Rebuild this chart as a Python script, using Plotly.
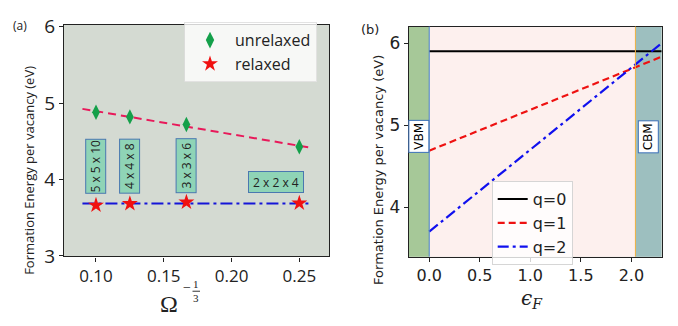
import numpy as np
import plotly.graph_objects as go

# ---------------- data ----------------
omega_inv3 = [0.100, 0.125, 0.1667, 0.250]
e_unrelaxed = [4.88, 4.82, 4.72, 4.43]
e_relaxed = [3.663, 3.684, 3.703, 3.691]
cell_labels = ["5 x 5 x 10", "4 x 4 x 8", "3 x 3 x 6", "2 x 2 x 4"]
fit_x_range = [0.090, 0.259]

ef = [0.0, 2.30]
e_q0 = [5.905, 5.905]
e_q1 = [4.69, 5.84]
e_q2 = [3.70, 6.005]
vbm = 0.0
cbm = 2.04
x2_range = [-0.2, 2.30]
y2_range = [3.394, 6.208]
x1_range = [0.0764, 0.2719]
y1_range = [2.994, 6.024]

W, H = 678, 326
def px(x):
    return x / W
def py(y):
    return 1 - y / H

# ---------------- figure ----------------
fig = go.Figure()

fx = np.array(fit_x_range)
p = np.polyfit(omega_inv3, e_unrelaxed, 1)
fig.add_trace(go.Scatter(x=fx, y=np.polyval(p, fx), mode="lines",
                         line=dict(color="#e8195a", width=2, dash="8px,5px"),
                         showlegend=False, xaxis="x", yaxis="y"))
rm = float(np.mean(e_relaxed))
fig.add_trace(go.Scatter(x=fx, y=[rm, rm], mode="lines",
                         line=dict(color="#1515d8", width=2, dash="12px,4px,3px,4px"),
                         showlegend=False, xaxis="x", yaxis="y"))

fig.add_trace(go.Scatter(x=omega_inv3, y=e_unrelaxed, mode="markers",
                         name="unrelaxed", legend="legend",
                         marker=dict(symbol="diamond-tall", size=11, color="#14a04a",
                                     line=dict(width=0)),
                         xaxis="x", yaxis="y"))
fig.add_trace(go.Scatter(x=omega_inv3, y=e_relaxed, mode="markers",
                         name="relaxed", legend="legend",
                         marker=dict(symbol="star", size=12, color="#f01010",
                                     line=dict(width=0)),
                         xaxis="x", yaxis="y"))

fig.add_trace(go.Scatter(x=ef, y=e_q0, mode="lines", name="q=0", legend="legend2",
                         line=dict(color="black", width=2), xaxis="x2", yaxis="y2"))
fig.add_trace(go.Scatter(x=ef, y=e_q1, mode="lines", name="q=1", legend="legend2",
                         line=dict(color="#ee1111", width=2.2, dash="7px,4px"),
                         xaxis="x2", yaxis="y2"))
fig.add_trace(go.Scatter(x=ef, y=e_q2, mode="lines", name="q=2", legend="legend2",
                         line=dict(color="#1010ee", width=2.2, dash="11px,4px,3px,4px"),
                         xaxis="x2", yaxis="y2"))

shapes = [
    dict(type="rect", xref="x2", yref="y2 domain", x0=x2_range[0], x1=vbm, y0=0, y1=1,
         fillcolor="#a6c898", line=dict(width=0), layer="below"),
    dict(type="rect", xref="x2", yref="y2 domain", x0=vbm, x1=cbm, y0=0, y1=1,
         fillcolor="#fdf0ee", line=dict(width=0), layer="below"),
    dict(type="rect", xref="x2", yref="y2 domain", x0=cbm, x1=x2_range[1], y0=0, y1=1,
         fillcolor="#9dbfbf", line=dict(width=0), layer="below"),
    dict(type="line", xref="x2", yref="y2 domain", x0=vbm, x1=vbm, y0=0, y1=1,
         line=dict(color="#4a80c8", width=1)),
    dict(type="line", xref="x2", yref="y2 domain", x0=cbm, x1=cbm, y0=0, y1=1,
         line=dict(color="#f0b040", width=1)),
    dict(type="line", xref="paper", yref="paper", x0=px(192.5), x1=px(200),
         y0=py(301.5), y1=py(301.5), line=dict(color="#333", width=1)),
]

ann = []
def A(**kw):
    kw.setdefault("showarrow", False)
    kw.setdefault("xanchor", "center")
    kw.setdefault("yanchor", "middle")
    ann.append(kw)

box_font = dict(family="Open Sans", size=12, color="#222")
for i in range(3):
    A(x=omega_inv3[i], y=4.18, xref="x", yref="y", text=cell_labels[i],
      textangle=-90, font=box_font, bgcolor="#8fd4b6", bordercolor="#4a78b0",
      borderwidth=1, borderpad=1, width=51, height=17)
A(x=omega_inv3[3], y=3.97, xref="x", yref="y", text=cell_labels[3], xshift=-23,
  font=box_font, bgcolor="#8fd4b6", bordercolor="#4a78b0", borderwidth=1,
  borderpad=1, width=52, height=18)
for lab, xc in [("VBM", (x2_range[0] + vbm) / 2), ("CBM", (cbm + x2_range[1]) / 2)]:
    A(x=xc, y=4.86, xref="x2", yref="y2", text=lab, textangle=-90,
      font=dict(family="DejaVu Sans", size=12, color="black"),
      bgcolor="white", bordercolor="#3a6fb8", borderwidth=1, borderpad=1,
      width=29, height=17)

ytitle = "Formation Energy per vacancy (eV)"
A(x=px(29), y=py(172), xref="paper", yref="paper", text=ytitle, textangle=-90,
  font=dict(family="Open Sans", size=13, color="#222"))
A(x=px(379), y=py(171), xref="paper", yref="paper", text=ytitle, textangle=-90,
  font=dict(family="DejaVu Sans", size=13, color="#222"))

A(x=px(169), y=py(315), xref="paper", yref="paper", text="Ω",
  font=dict(family="Liberation Serif", size=24, color="#222"))
A(x=px(186.5), y=py(298), xref="paper", yref="paper", text="−",
  font=dict(family="Liberation Serif", size=14, color="#222"))
A(x=px(196.3), y=py(294), xref="paper", yref="paper", text="1",
  font=dict(family="Liberation Serif", size=11, color="#222"))
A(x=px(196.3), y=py(308.5), xref="paper", yref="paper", text="3",
  font=dict(family="Liberation Serif", size=11, color="#222"))
A(x=px(532), y=py(310), xref="paper", yref="paper",
  text="<i>ϵ</i><sub><i>F</i></sub>",
  font=dict(family="DejaVu Serif", size=20, color="#222"))

A(x=px(20), y=py(16), xref="paper", yref="paper", text="(a)",
  font=dict(family="Open Sans", size=12, color="#222"))
A(x=px(370), y=py(20), xref="paper", yref="paper", text="(b)",
  font=dict(family="DejaVu Sans", size=13, color="#222"))

axis_common = dict(showline=True, linecolor="#222", linewidth=1.3, mirror=True,
                   ticks="outside", ticklen=4, tickcolor="#222", showgrid=False,
                   zeroline=False)

fig.update_layout(
    width=W, height=H,
    margin=dict(l=0, r=0, t=0, b=0),
    paper_bgcolor="white",
    plot_bgcolor="#d4dad2",
    shapes=shapes,
    annotations=ann,
    xaxis=dict(domain=[px(64), px(329)], range=x1_range, tickvals=[0.10, 0.15, 0.20, 0.25],
               ticktext=["0.10", "0.15", "0.20", "0.25"],
               tickfont=dict(family="Open Sans", size=17, color="#222"), **axis_common),
    yaxis=dict(domain=[py(264), py(15)], range=y1_range, tickvals=[3, 4, 5, 6],
               tickfont=dict(family="Open Sans", size=19, color="#222"), **axis_common),
    xaxis2=dict(domain=[px(409), px(661.7)], range=x2_range,
                tickvals=[0.0, 0.5, 1.0, 1.5, 2.0], ticktext=["0.0", "0.5", "1.0", "1.5", "2.0"],
                tickfont=dict(family="DejaVu Sans", size=16, color="#222"),
                anchor="y2", **axis_common),
    yaxis2=dict(domain=[py(264.3), py(16.7)], range=y2_range, tickvals=[4, 5, 6],
                tickfont=dict(family="DejaVu Sans", size=17, color="#222"),
                anchor="x2", **axis_common),
    legend=dict(x=px(184), y=py(12), xanchor="left", yanchor="top",
                bgcolor="rgba(255,255,255,0.8)", bordercolor="rgba(220,220,220,0.8)",
                borderwidth=1, font=dict(family="Open Sans", size=16, color="#222"),
                itemsizing="constant", itemwidth=40),
    legend2=dict(x=px(491.7), y=py(183), xanchor="left", yanchor="top",
                 bgcolor="rgba(255,255,255,0.8)", bordercolor="rgba(210,210,210,0.9)",
                 borderwidth=1, font=dict(family="DejaVu Sans", size=16, color="#222")),
)

fig.write_html("out.html")
